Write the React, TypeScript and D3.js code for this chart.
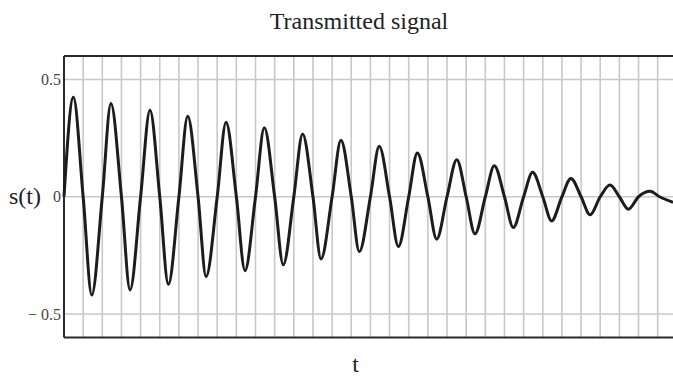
import React from "react";
import * as d3 from "d3";

// Readings of the signal: zero crossings, peaks and troughs (t in grid units)
const tKnots = [
  0, 0.49, 1, 1.45, 2, 2.45, 3, 3.45, 4, 4.49, 5, 5.45, 6, 6.46, 7, 7.42,
  8, 8.46, 9, 9.45, 10, 10.46, 11, 11.45, 12, 12.46, 13, 13.42, 14, 14.46,
  15, 15.42, 16, 16.46, 17, 17.46, 18, 18.45, 19, 19.46, 20, 20.51, 21, 21.46,
  22, 22.47, 23, 23.46, 24, 24.47, 25, 25.46, 26, 26.47, 27, 27.47, 28, 28.51,
  29, 29.47, 30, 30.6, 31.1, 31.8,
];
const sValues = [
  0, 0.424, 0, -0.419, 0, 0.397, 0, -0.397, 0, 0.369, 0, -0.373, 0, 0.343, 0, -0.34,
  0, 0.318, 0, -0.315, 0, 0.294, 0, -0.29, 0, 0.268, 0, -0.265, 0, 0.241,
  0, -0.234, 0, 0.215, 0, -0.212, 0, 0.187, 0, -0.181, 0, 0.158, 0, -0.158,
  0, 0.132, 0, -0.131, 0, 0.104, 0, -0.103, 0, 0.078, 0, -0.077, 0, 0.05,
  0, -0.053, 0, 0.023, 0, -0.024,
];
const yTicks = [0.5, 0, -0.5];
const yTickLabels = ["0.5", "0", "\u2212 0.5"];
const xGrid = d3.range(1, 32);

const W = 673;
const H = 378;
const left = 64;
const right = 673;
const top = 56;
const bottom = 337.5;

export default function App() {
  const x = d3.scaleLinear().domain([0, 31.8]).range([left, right]);
  const y = d3.scaleLinear().domain([-0.6, 0.6]).range([bottom, top]);
  const pts: [number, number][] = tKnots.map((t, i) => [t, sValues[i]]);
  const line = d3
    .line<[number, number]>()
    .x((d) => x(d[0]))
    .y((d) => y(d[1]))
    .curve(d3.curveMonotoneX);
  const font = "'Liberation Serif', 'Times New Roman', serif";
  return (
    <svg
      width={W}
      height={H}
      style={{ position: "fixed", left: 0, top: 0, background: "#fff" }}
    >
      <rect x={0} y={0} width={W} height={H} fill="#fff" />
      {xGrid.map((g) => (
        <line key={"vx" + g} x1={x(g)} x2={x(g)} y1={top} y2={bottom} stroke="#c8c8c8" strokeWidth={1.6} />
      ))}
      {yTicks.map((v) => (
        <line key={"hy" + v} x1={left} x2={right} y1={y(v)} y2={y(v)} stroke="#c8c8c8" strokeWidth={1.6} />
      ))}
      <line x1={left} x2={right} y1={top} y2={top} stroke="#2a2a2a" strokeWidth={2} />
      <line x1={left} x2={right} y1={bottom} y2={bottom} stroke="#2a2a2a" strokeWidth={2} />
      <line x1={left} x2={left} y1={top} y2={bottom} stroke="#2a2a2a" strokeWidth={2} />
      <path d={line(pts) || ""} fill="none" stroke="#1c1c1c" strokeWidth={3} strokeLinejoin="round" />
      {yTicks.map((v, i) => (
        <text key={"yl" + v} x={61} y={y(v) + 5.5} textAnchor="end" fontFamily={font} fontSize={16} fill="#444">
          {yTickLabels[i]}
        </text>
      ))}
      <text x={9} y={204} fontFamily={font} fontSize={24} fill="#222">
        s(t)
      </text>
      <text x={359} y={28.5} textAnchor="middle" fontFamily={font} fontSize={24} fill="#222">
        Transmitted signal
      </text>
      <text x={355.5} y={372} textAnchor="middle" fontFamily={font} fontSize={24} fill="#222">
        t
      </text>
    </svg>
  );
}
